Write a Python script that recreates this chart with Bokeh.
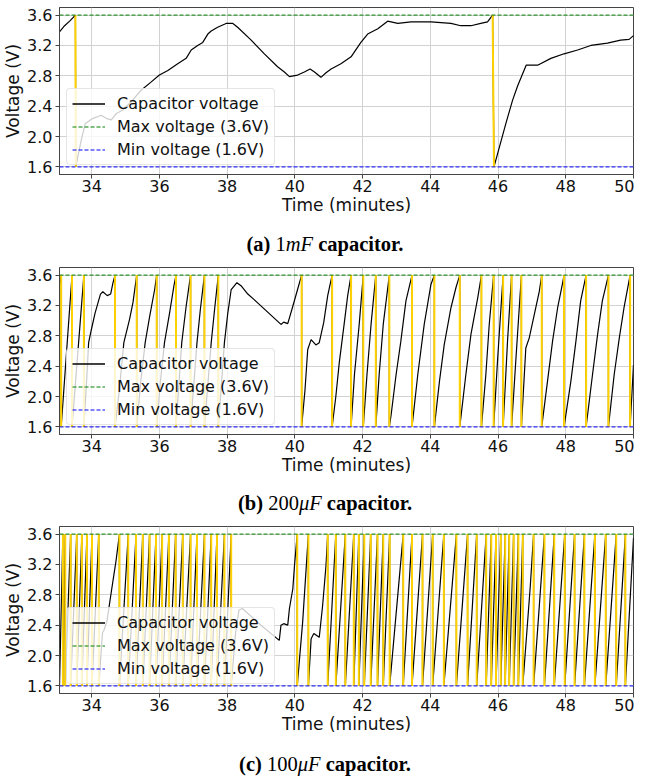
from bokeh.plotting import figure
from bokeh.models import Legend, LegendItem, Div, PrintfTickFormatter, FixedTicker, Range1d
from bokeh.layouts import column
from bokeh.embed import file_html
from bokeh.resources import INLINE

# ---------------- data ----------------
X_RANGE = [33.05, 50.0]
Y_RANGE = [1.5, 3.7]
V_MAX = 3.6
V_MIN = 1.6
X_TICKS = [34, 36, 38, 40, 42, 44, 46, 48, 50]
Y_TICKS = [1.6, 2.0, 2.4, 2.8, 3.2, 3.6]
LEGEND_LABELS = ["Capacitor voltage", "Max voltage (3.6V)", "Min voltage (1.6V)"]
X_LABEL = "Time (minutes)"
Y_LABEL = "Voltage (V)"

# (a) 1mF capacitor
T_A = [33.05, 33.20, 33.35, 33.52, 33.53, 33.69, 33.81, 33.94, 34.04, 34.28,
       34.43, 34.58, 34.72, 34.92, 35.17, 35.46, 35.76, 36.00, 36.25, 36.54,
       36.79, 36.94, 37.13, 37.28, 37.43, 37.53, 37.72, 37.97, 38.17, 38.31,
       38.71, 39.10, 39.49, 39.69, 39.84, 40.08, 40.28, 40.45, 40.58, 40.77,
       40.92, 41.07, 41.36, 41.66, 41.95, 42.15, 42.45, 42.74, 43.04, 43.43,
       44.02, 44.61, 44.90, 45.20, 45.49, 45.69, 45.84, 45.88, 46.04, 46.23,
       46.43, 46.58, 46.83, 47.17, 47.56, 47.95, 48.35, 48.74, 49.23, 49.62,
       49.87, 50.0]
V_A = [3.38, 3.46, 3.52, 3.60, 1.60, 1.95, 2.17, 2.21, 2.24, 2.28,
       2.24, 2.22, 2.30, 2.35, 2.46, 2.61, 2.72, 2.81, 2.87, 2.96,
       3.03, 3.14, 3.20, 3.24, 3.35, 3.39, 3.44, 3.49, 3.49, 3.44,
       3.27, 3.09, 2.92, 2.85, 2.79, 2.81, 2.85, 2.89, 2.85, 2.78,
       2.84, 2.89, 2.96, 3.05, 3.24, 3.35, 3.42, 3.52, 3.49, 3.51,
       3.51, 3.49, 3.46, 3.46, 3.49, 3.51, 3.60, 1.60, 1.86, 2.17,
       2.48, 2.67, 2.94, 2.94, 3.03, 3.09, 3.14, 3.20, 3.23, 3.27,
       3.28, 3.33]
DROP_A_START = [33.52, 45.84]
DROP_A_END = [33.53, 45.88]

# (b) 200uF capacitor
START_B = [(33.05, 3.48)]
DROPS_B = [33.10, 33.42, 33.77, 34.69, 35.33, 35.92, 36.49, 36.92, 37.33, 37.74,
           40.20, 41.10, 41.66, 42.02, 42.39, 42.79, 43.46, 44.12, 44.87, 45.51,
           45.87, 46.15, 46.40, 46.69, 47.29, 47.95, 48.60, 49.26, 49.90]
RAMPS_B = [
    [],
    [],
    [(33.85, 2.20), (33.91, 2.71), (33.99, 2.88), (34.10, 3.10), (34.26, 3.35),
     (34.33, 3.38), (34.46, 3.33), (34.56, 3.35), (34.63, 3.50)],
    [(34.82, 2.10), (34.95, 2.71), (35.12, 3.02), (35.22, 3.24)],
    [(35.45, 2.20), (35.58, 2.71), (35.71, 3.05), (35.86, 3.41)],
    [(36.03, 2.20), (36.15, 2.71), (36.30, 3.10), (36.43, 3.46)],
    [(36.66, 2.71), (36.79, 3.19)],
    [(37.11, 2.71), (37.21, 3.15)],
    [(37.53, 2.71), (37.63, 3.15)],
    [(37.92, 2.71), (38.02, 3.10), (38.12, 3.41), (38.29, 3.50), (38.41, 3.46),
     (38.61, 3.35), (38.79, 3.28), (39.59, 2.95), (39.67, 2.98), (39.79, 2.96),
     (39.94, 3.19), (40.08, 3.41)],
    [(40.30, 2.09), (40.38, 2.62), (40.48, 2.75), (40.62, 2.68), (40.72, 2.71),
     (40.85, 2.97), (40.97, 3.33)],
    [(41.21, 2.00), (41.31, 2.44), (41.46, 2.97), (41.56, 3.33)],
    [(41.76, 2.29), (41.90, 2.95)],
    [(42.13, 2.29), (42.25, 2.95)],
    [(42.49, 2.29), (42.61, 2.95)],
    [(42.84, 1.75), (42.99, 2.29), (43.13, 2.73), (43.28, 3.26)],
    [(43.63, 2.29), (43.82, 2.95), (44.02, 3.48)],
    [(44.27, 2.20), (44.41, 2.68), (44.61, 3.17), (44.76, 3.44)],
    [(45.05, 2.29), (45.20, 2.82), (45.40, 3.30)],
    [(45.64, 2.29), (45.74, 2.95)],
    [(45.99, 2.51)],
    [(46.28, 2.73)],
    [(46.53, 2.51)],
    [(46.82, 2.64), (46.92, 2.77), (47.07, 3.08), (47.22, 3.39)],
    [(47.46, 2.20), (47.61, 2.73), (47.76, 3.17), (47.90, 3.48)],
    [(48.15, 2.20), (48.30, 2.73), (48.44, 3.26)],
    [(48.79, 2.29), (48.94, 2.82), (49.08, 3.26)],
    [(49.43, 2.29), (49.58, 2.77), (49.72, 3.17)],
    [(50.00, 2.42)],
]

# (c) 100uF capacitor
START_C = [(33.05, 1.60)]
DROPS_C = [33.15, 33.22, 33.38, 33.56, 33.71, 33.86, 34.01, 34.21, 34.82, 35.08,
           35.31, 35.51, 35.71, 35.90, 36.08, 36.28, 36.48, 36.69, 36.92, 37.11,
           37.33, 37.53, 37.70, 37.92, 38.12, 40.07, 40.40, 40.97, 41.21, 41.49,
           41.74, 41.89, 42.05, 42.24, 42.44, 42.61, 42.80, 43.20, 43.46, 43.77,
           44.07, 44.40, 44.77, 45.10, 45.37, 45.65, 45.80, 45.94, 46.08, 46.21,
           46.33, 46.46, 46.60, 46.73, 47.05, 47.37, 47.66, 47.97, 48.26, 48.55,
           48.86, 49.18, 49.49, 49.76]
RAMPS_C = {
    34.21: [(34.32, 2.30), (34.36, 2.33), (34.45, 2.45), (34.60, 2.90), (34.72, 3.25)],
    38.12: [(38.25, 2.30), (38.35, 2.60), (38.45, 2.62), (39.00, 2.40), (39.54, 2.20),
            (39.59, 2.40), (39.67, 2.42), (39.79, 2.40), (39.84, 2.62), (39.94, 2.88),
            (39.99, 3.19)],
    40.07: [(40.23, 2.44)],
    40.40: [(40.48, 2.22), (40.56, 2.29), (40.72, 2.24), (40.82, 2.66), (40.92, 3.19)],
    46.73: [(46.95, 2.90)],
    49.76: [(50.00, 3.55)],
}

# ---------------- styling ----------------
GOLD = "#FFD200"
GREEN = "#008000"
BLUE = "#0000FF"
FONT = "DejaVu Sans"
FRAME_W = 574
FRAME_H = 167


def build_series(start, drops, ramps):
    pts = list(start)
    for d, r in zip(drops, ramps):
        pts += [(d, V_MAX), (d, V_MIN)] + list(r)
    return [p[0] for p in pts], [p[1] for p in pts]


def make_fig(t, v, d0, d1, top_border):
    p = figure(frame_width=FRAME_W, frame_height=FRAME_H,
               x_range=Range1d(*X_RANGE), y_range=Range1d(*Y_RANGE),
               output_backend="svg", toolbar_location=None,
               min_border_left=54, min_border_right=1,
               min_border_top=top_border, min_border_bottom=48)
    p.background_fill_color = "white"
    p.border_fill_color = "white"
    p.outline_line_color = "#444444"
    p.outline_line_width = 1

    p.xaxis.ticker = FixedTicker(ticks=X_TICKS)
    p.yaxis.ticker = FixedTicker(ticks=Y_TICKS)
    p.yaxis.formatter = PrintfTickFormatter(format="%.1f")
    for ax in (p.xaxis, p.yaxis):
        ax.axis_line_color = "#444444"
        ax.major_tick_line_color = "#444444"
        ax.major_tick_in = 0
        ax.major_tick_out = 4
        ax.minor_tick_line_color = None
        ax.major_label_text_font = FONT
        ax.major_label_text_font_size = "16px"
        ax.major_label_text_color = "#111111"
        ax.axis_label_text_font = FONT
        ax.axis_label_text_font_size = "17px"
        ax.axis_label_text_font_style = "normal"
        ax.axis_label_text_color = "#111111"
    p.xaxis.axis_label = X_LABEL
    p.yaxis.axis_label = Y_LABEL
    p.xaxis.major_label_standoff = 1
    p.xaxis.axis_label_standoff = 0
    p.yaxis.major_label_standoff = 3
    p.yaxis.axis_label_standoff = 1

    p.grid.grid_line_color = "#d2d2d2"
    p.grid.grid_line_width = 1

    p.line(t, v, line_color="black", line_width=1.2)
    p.segment(x0=d0, y0=[V_MAX] * len(d0), x1=d1, y1=[V_MIN] * len(d0),
              line_color=GOLD, line_width=2)
    p.line(X_RANGE, [V_MAX, V_MAX], line_color=GREEN, line_dash="4 2", line_width=1)
    p.line(X_RANGE, [V_MIN, V_MIN], line_color=BLUE, line_dash="4 2", line_width=1)

    # helper renderers (outside the visible x range) used for the legend glyphs
    off_x = [X_RANGE[0] - 2, X_RANGE[0] - 1]
    k_cap = p.line(off_x, [V_MIN, V_MIN], line_color="black", line_width=1.4)
    k_max = p.line(off_x, [V_MAX, V_MAX], line_color=GREEN, line_dash="4 2", line_width=1.1)
    k_min = p.line(off_x, [V_MIN, V_MIN], line_color=BLUE, line_dash="4 2", line_width=1.1)

    legend = Legend(items=[LegendItem(label=LEGEND_LABELS[0], renderers=[k_cap]),
                           LegendItem(label=LEGEND_LABELS[1], renderers=[k_max]),
                           LegendItem(label=LEGEND_LABELS[2], renderers=[k_min])],
                    location=(7, 9))
    legend.label_text_font = FONT
    legend.label_text_font_size = "16px"
    legend.label_text_color = "#111111"
    legend.glyph_width = 33
    legend.glyph_height = 19
    legend.label_height = 19
    legend.label_standoff = 12
    legend.spacing = 4
    legend.padding = 5
    legend.margin = 0
    legend.background_fill_alpha = 0.8
    legend.border_line_color = "#cccccc"
    legend.border_line_width = 1
    if "border_radius" in legend.properties():
        legend.border_radius = 4
    p.add_layout(legend)
    return p


def caption(letter, num, unit, height, pad):
    html = (f'<div style="width:628px;height:{height}px;padding-top:{pad}px;box-sizing:border-box;'
            f'text-align:center;padding-left:22px;font-family:\'Liberation Serif\',serif;'
            f'font-size:20.5px;line-height:20px;color:#000;white-space:nowrap;">'
            f'<b>({letter})</b> {num}<i>{unit}</i> <b>capacitor.</b></div>')
    return Div(text=html, width=628, height=height, margin=0)


t_b, v_b = build_series(START_B, DROPS_B, RAMPS_B)
t_c, v_c = build_series(START_C, DROPS_C, [RAMPS_C.get(d, []) for d in DROPS_C])

fig_a = make_fig(T_A, V_A, DROP_A_START, DROP_A_END, 7)
fig_b = make_fig(t_b, v_b, DROPS_B, DROPS_B, 9)
fig_c = make_fig(t_c, v_c, DROPS_C, DROPS_C, 9)

layout = column(fig_a, caption("a", "1", "mF", 36, 12),
                fig_b, caption("b", "200", "μF", 35, 11),
                fig_c, caption("c", "100", "μF", 35, 13),
                spacing=0)

open("out.html", "w").write(file_html(layout, INLINE))
